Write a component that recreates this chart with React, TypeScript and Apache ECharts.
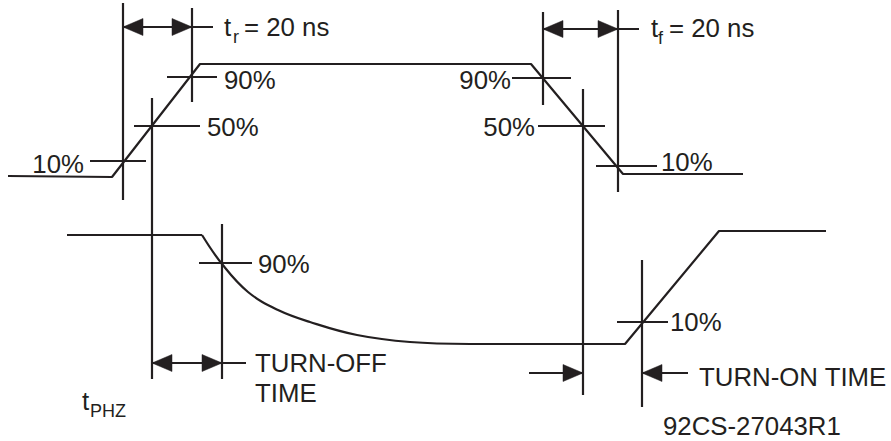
import React, { useEffect, useRef } from "react";
import * as echarts from "echarts";

// Waveforms (diagram coordinates: x to the right, y downward)
const topWave = [[8, 176], [112, 177], [200, 64], [531, 64], [623, 174], [743, 174]];
const bottomHigh = [[67, 235], [202, 235]];
const bottomDecay = [
  [202, 235], [222, 264], [248, 292], [278, 310], [310, 322], [357, 335], [410, 342], [470, 344],
];
const bottomLowRise = [[470, 344], [625, 344], [719, 231], [826, 231]];

// Reference lines: verticals [x, y1, y2], ticks [y, x1, x2]
const refVerticals = [
  [123, 3, 200], [152, 98, 379], [192, 8, 102], [543, 12, 105],
  [583, 89, 395], [618, 10, 192], [222, 224, 379], [642, 260, 407],
];
const refTicks = [
  [161, 90, 146], [126, 134, 200], [77, 167, 217], [78, 512, 571],
  [126, 538, 605], [166, 596, 657], [263, 199, 252], [322, 617, 668],
];

// Dimension arrows: shafts [y, x1, x2], tips [x, y, direction]
const dimShafts = [[27, 123, 213], [29, 543, 639], [363, 152, 246], [373, 529, 583], [373, 642, 688]];
const dimTips = [
  [123, 27, -1], [192, 27, 1], [543, 29, -1], [618, 29, 1],
  [152, 363, -1], [222, 363, 1], [583, 373, 1], [642, 373, -1],
];

// Labels
const labelTexts = [
  "10%", "50%", "90%", "t", "r", "= 20 ns",
  "90%", "50%", "10%", "t", "f", "= 20 ns",
  "90%", "TURN-OFF", "TIME", "t", "PHZ", "10%", "TURN-ON TIME", "92CS-27043R1",
];
const labelAnchors = [
  [84, 164], [207, 127], [224, 80], [224, 27], [233, 37], [244, 27],
  [511, 80], [535, 127], [661, 162], [651, 28], [658, 38], [669, 28],
  [258, 264], [255, 363], [255, 393], [82, 401], [90, 411], [670, 322], [699, 377], [663, 426],
];

const INK = "#231f20";
const FONT = '"Liberation Sans", Arial, Helvetica, sans-serif';
const LW = 2.2;
const RIGHT_ALIGNED = new Set([0, 6, 7]);
const SUBSCRIPTS = new Set([4, 10, 16]);

export default function App() {
  const ref = useRef<HTMLDivElement>(null);

  useEffect(() => {
    document.body.style.margin = "0";
    document.body.style.background = "#ffffff";
    const chart = echarts.init(ref.current!, null, { renderer: "svg" });

    const lineSeries = (data: number[][], smooth: boolean | number = false) => ({
      type: "line",
      data,
      smooth,
      symbol: "none",
      silent: true,
      clip: false,
      lineStyle: { color: INK, width: LW },
      z: 3,
    });

    chart.setOption({
      animation: false,
      backgroundColor: "#ffffff",
      grid: { left: 0, right: 0, top: 0, bottom: 0 },
      xAxis: { type: "value", min: 0, max: 891, show: false },
      yAxis: { type: "value", min: 0, max: 441, inverse: true, show: false },
      series: [
        lineSeries(topWave),
        lineSeries(bottomHigh),
        lineSeries(bottomDecay, 0.4),
        lineSeries(bottomLowRise),
        {
          type: "custom",
          clip: false,
          silent: true,
          data: refVerticals,
          renderItem: (_p: any, api: any) => {
            const a = api.coord([api.value(0), api.value(1)]);
            const b = api.coord([api.value(0), api.value(2)]);
            return {
              type: "line",
              shape: { x1: a[0], y1: a[1], x2: b[0], y2: b[1] },
              style: { stroke: INK, lineWidth: LW },
            };
          },
          z: 2,
        },
        {
          type: "custom",
          clip: false,
          silent: true,
          data: [...refTicks, ...dimShafts],
          renderItem: (_p: any, api: any) => {
            const a = api.coord([api.value(1), api.value(0)]);
            const b = api.coord([api.value(2), api.value(0)]);
            return {
              type: "line",
              shape: { x1: a[0], y1: a[1], x2: b[0], y2: b[1] },
              style: { stroke: INK, lineWidth: LW },
            };
          },
          z: 2,
        },
        {
          type: "custom",
          clip: false,
          silent: true,
          data: dimTips,
          renderItem: (_p: any, api: any) => {
            const x = api.value(0);
            const y = api.value(1);
            const d = api.value(2);
            const tip = api.coord([x, y]);
            const b1 = api.coord([x - d * 20, y - 8.5]);
            const b2 = api.coord([x - d * 20, y + 8.5]);
            return {
              type: "polygon",
              shape: { points: [tip, b1, b2] },
              style: { fill: INK, stroke: INK, lineWidth: 0.5 },
            };
          },
          z: 4,
        },
        {
          type: "custom",
          clip: false,
          silent: true,
          data: labelAnchors.map((a, i) => [a[0], a[1], i]),
          renderItem: (_p: any, api: any) => {
            const i = api.value(2);
            const p = api.coord([api.value(0), api.value(1)]);
            return {
              type: "text",
              x: p[0],
              y: p[1],
              style: {
                text: labelTexts[i],
                fill: INK,
                fontFamily: FONT,
                fontSize: SUBSCRIPTS.has(i) ? 18 : 25.8,
                align: RIGHT_ALIGNED.has(i) ? "right" : "left",
                verticalAlign: "middle",
              },
            };
          },
          z: 5,
        },
      ],
    });

    return () => chart.dispose();
  }, []);

  return <div ref={ref} style={{ width: 891, height: 441 }} />;
}
